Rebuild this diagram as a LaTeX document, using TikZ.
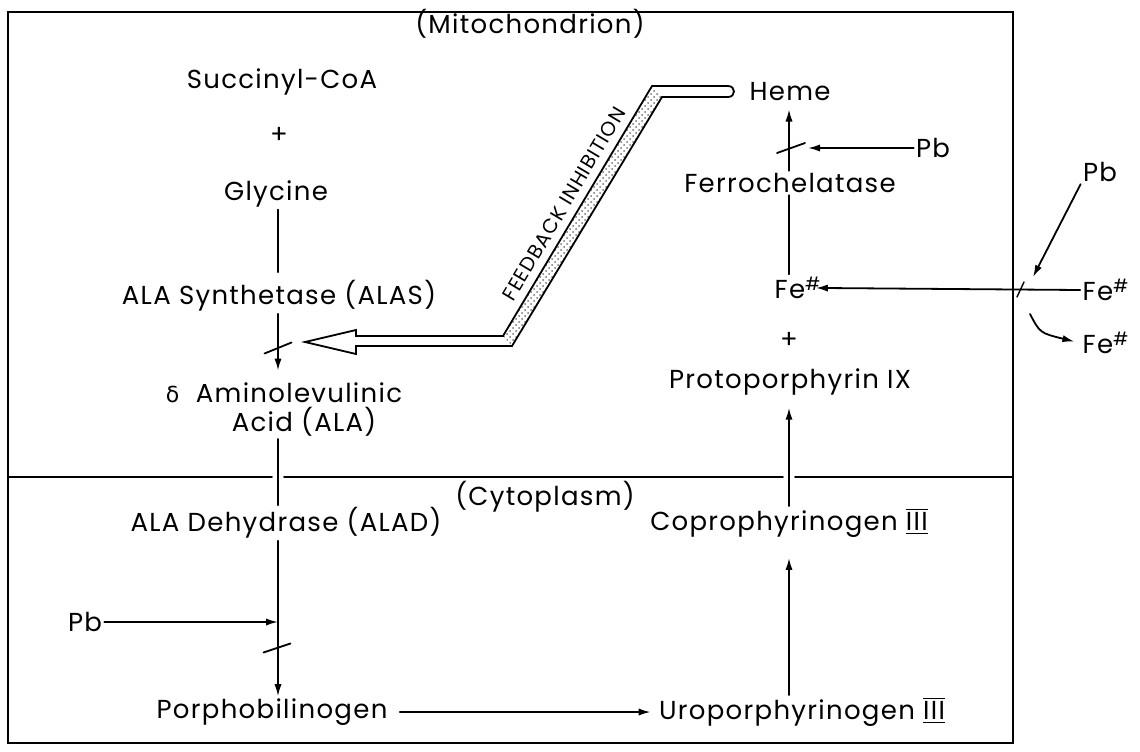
\documentclass[tikz,border=0pt]{standalone}
\usepackage{fontspec}
\setmainfont{Poppins}[LetterSpace=5]
\newfontfamily\dvs{DejaVu Sans}
\usetikzlibrary{arrows.meta,patterns}
\newcommand{\romIII}{\ensuremath{\overline{\underline{\hbox{III}}}}}
\begin{document}
\begin{tikzpicture}[x=0.5pt,y=-0.5pt,
  lbl/.style={font=\fontsize{13}{15}\selectfont, inner sep=1pt},
  fbl/.style={font=\fontsize{10}{12}\selectfont, inner sep=1pt},
  ln/.style={line width=0.9pt, line cap=round},
  thinln/.style={line width=0.7pt, line cap=round},
  arr/.style={ln, -{Latex[length=6pt,width=3.6pt]}},
  blk/.style={line width=0.9pt, line cap=round}]
\useasboundingbox (0,0) rectangle (1140,751);
\coordinate (cL) at (278,0);
\coordinate (cR) at (789,0);
% frame and divider
\draw[ln] (8,12) rectangle (1013,743);
\draw[ln] (8,477) -- (272,477) (284,477) -- (783,477) (795,477) -- (1013,477);
% labels
\node[lbl] (mito) at (530,24) {(Mitochondrion)};
\node[lbl] (succ) at (282,82) {Succinyl-CoA};
\node[lbl] (plus1) at (279,135) {+};
\node[lbl] (gly) at (276,194) {Glycine};
\node[lbl] (alas) at (279,296) {ALA Synthetase (ALAS)};
\node[lbl] (amino) at (284,393) {{\dvs\fontsize{11}{13}\selectfont δ}\ \ Aminolevulinic};
\node[lbl] (acid) at (304,422) {Acid (ALA)};
\node[lbl] (cyto) at (545,497) {(Cytoplasm)};
\node[lbl] (alad) at (286,523) {ALA Dehydrase (ALAD)};
\node[lbl] (pbl) at (85,622) {Pb};
\node[lbl] (porpho) at (272,712) {Porphobilinogen};
\node[lbl] (uro) at (802,712) {Uroporphyrinogen \romIII};
\node[lbl] (copro) at (789,523) {Coprophyrinogen \romIII};
\node[lbl] (proto) at (790,382) {Protoporphyrin IX};
\node[lbl] (plus2) at (789,340) {+};
\node[lbl] (fe) at (798,288) {Fe\textsuperscript{\#}};
\node[lbl] (ferro) at (790,183) {Ferrochelatase};
\node[lbl] (pbr) at (933,148) {Pb};
\node[lbl] (heme) at (790,92) {Heme};
\node[lbl] (pbo) at (1100,172) {Pb};
\node[lbl] (feo1) at (1106,290) {Fe\textsuperscript{\#}};
\node[lbl] (feo2) at (1106,343) {Fe\textsuperscript{\#}};
% left column
\draw[ln, shorten >=3pt] (gly.south -| cL) -- (alas.north -| cL);
\draw[arr, shorten >=5pt] (alas.south -| cL) -- (amino.north -| cL);
\coordinate (tk1) at (278,348);
\draw[blk] ([shift={(-13.5,5.5)}]tk1) -- ([shift={(13.5,-5.5)}]tk1);
\draw[ln] (acid.south -| cL) -- (alad.north -| cL);
\draw[arr] (alad.south -| cL) -- (porpho.north -| cL);
\draw[arr] (pbl.east) -- (pbl.east -| cL);
\coordinate (tk2) at (277,648);
\draw[blk] ([shift={(-13.5,4.5)}]tk2) -- ([shift={(13.5,-4.5)}]tk2);
\draw[arr, shorten <=5pt, shorten >=3pt] (porpho.east) -- (uro.west);
% feedback inhibition arrow
\coordinate (fT) at (305,342);
\fill[pattern=crosshatch dots, pattern color=black!55] (503,336) -- (652,86) -- (662,97) -- (512,346) -- cycle;
\draw[ln, line join=miter] (fT) -- (356,330) -- (356,336) -- (503,336) -- (652,86) -- (728,86)
  .. controls (736,86) and (736,97) .. (728,97) -- (662,97) -- (512,346) -- (356,346) -- (356,354) -- cycle;
\node[fbl, rotate=59.2] (fbtxt) at (564,204) {FEEDBACK INHIBITION};
% right column
\draw[arr, thinln, shorten >=3pt] (ferro.north -| cR) -- (heme.south -| cR);
\draw[thinln] (fe.north -| cR) -- (ferro.south -| cR);
\coordinate (tk3) at (791,148);
\draw[blk] ([shift={(-14,5)}]tk3) -- ([shift={(14,-5)}]tk3);
\draw[arr, shorten >=9.5pt] (pbr.west) -- (pbr.west -| cR);
\draw[arr, shorten >=-4pt] (feo1.west) -- (fe.east);
\draw[arr, shorten >=5pt] (copro.north -| cR) -- (proto.south -| cR);
\draw[arr, shorten >=9pt] (uro.north -| cR) -- (copro.south -| cR);
% outside the membrane
\coordinate (pbtip) at (1033,277);
\draw[arr] (pbo.south west) -- (pbtip);
\coordinate (tk4) at (1020,290);
\draw[thinln] ([shift={(-3,7)}]tk4) -- ([shift={(4,-8)}]tk4);
\coordinate (crvS) at (1030,314);
\draw[arr, shorten >=3pt] (crvS) .. controls (1040,333) .. (feo2.west);
\end{tikzpicture}
\end{document}
